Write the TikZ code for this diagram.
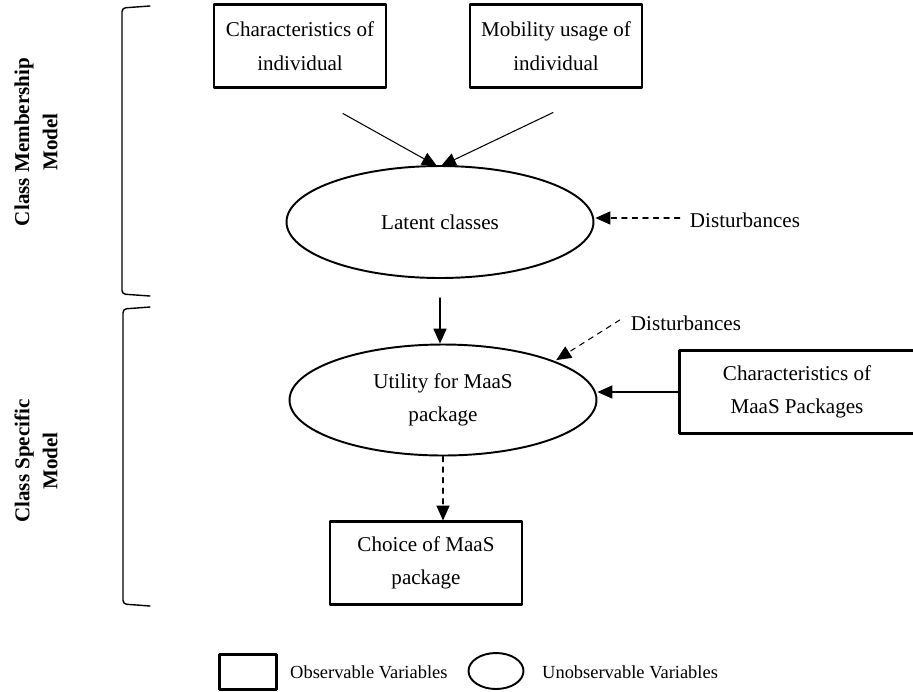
\documentclass[tikz,border=0pt]{standalone}
\usepackage{fontspec}
\setmainfont{Liberation Serif}
\usetikzlibrary{arrows.meta,shapes.geometric,calc}

\begin{document}
\begin{tikzpicture}[line cap=round,line join=round,x=0.02cm,y=-0.02cm,
	font=\fontsize{12}{19}\selectfont,
	box/.style={draw,line width=1.2pt,align=center,minimum width=3.44cm,minimum height=1.66cm,inner sep=0pt},
	oval/.style={draw,ellipse,line width=1.1pt,align=center,inner sep=0pt},
	arr/.style={-{Triangle[length=8.5pt,width=7.5pt]},line width=0.6pt},
	darr/.style={arr,dashed},
	brack/.style={line width=0.8pt,rounded corners=2pt},
	side/.style={rotate=90,align=center,font=\bfseries\fontsize{12}{16}\selectfont}]
	\useasboundingbox (0,0) rectangle (913,691);
	% observed inputs
	\node[box] (indiv) at (300,46) {Characteristics of\\individual};
	\node[box] (usage) at (556,46) {Mobility usage of\\individual};
	\node[box,minimum width=4.7cm] (maas) at (797,392) {Characteristics of\\MaaS Packages};
	\node[box,minimum width=3.84cm] (choice) at (426,563) {Choice of MaaS\\package};
	% latent parts
	\node[oval,minimum width=6.14cm,minimum height=2.24cm] (latent) at (440,222) {Latent classes};
	\node[oval,minimum width=6.14cm,minimum height=2.22cm] (utility) at (443,400) {Utility for MaaS\\package};
	\node (dist1) at (745,220) {Disturbances};
	\node (dist2) at (686,323) {Disturbances};
	% connectors
	\draw[arr] ($(indiv.south)+(43,25)$) -- ($(latent.north)+(-3,1)$);
	\draw[arr] ($(usage.south)+(-3,24)$) -- ($(latent.north)+(1,1)$);
	\draw[darr] ($(dist1.west)+(-4,-2)$) -- ($(latent.east)+(1,-4)$);
	\draw[arr,shorten <=0.38cm] (latent.south) -- (latent.south |- utility.north);
	\draw[darr] ($(dist2.west)+(-5,-3)$) -- ($(utility.north east)+(4,0)$);
	\draw[arr] (maas.west) -- (maas.west -| utility.east);
	\draw[darr] (utility.south) -- (utility.south |- choice.north);
	% brackets and side labels
	\draw[brack] (150,6) -- (122,8) -- (122,294) -- (150,296);
	\draw[brack] (150,307) -- (123,309) -- (123,604) -- (150,606);
	\node[side] (cmm) at (36,142) {Class Membership\\Model};
	\node[side] (csm) at (36,461) {Class Specific\\Model};
	% legend
	\node[box,minimum width=1.14cm,minimum height=0.7cm] (obs) at (248,672) {};
	\node[anchor=west,font=\fontsize{10.5}{12}\selectfont] (obstxt) at (284,672) {Observable Variables};
	\node[oval,minimum width=1.1cm,minimum height=0.72cm] (unobs) at (496,671) {};
	\node[anchor=west,font=\fontsize{10.5}{12}\selectfont] (unobstxt) at (536,672) {Unobservable Variables};
\end{tikzpicture}
\end{document}
